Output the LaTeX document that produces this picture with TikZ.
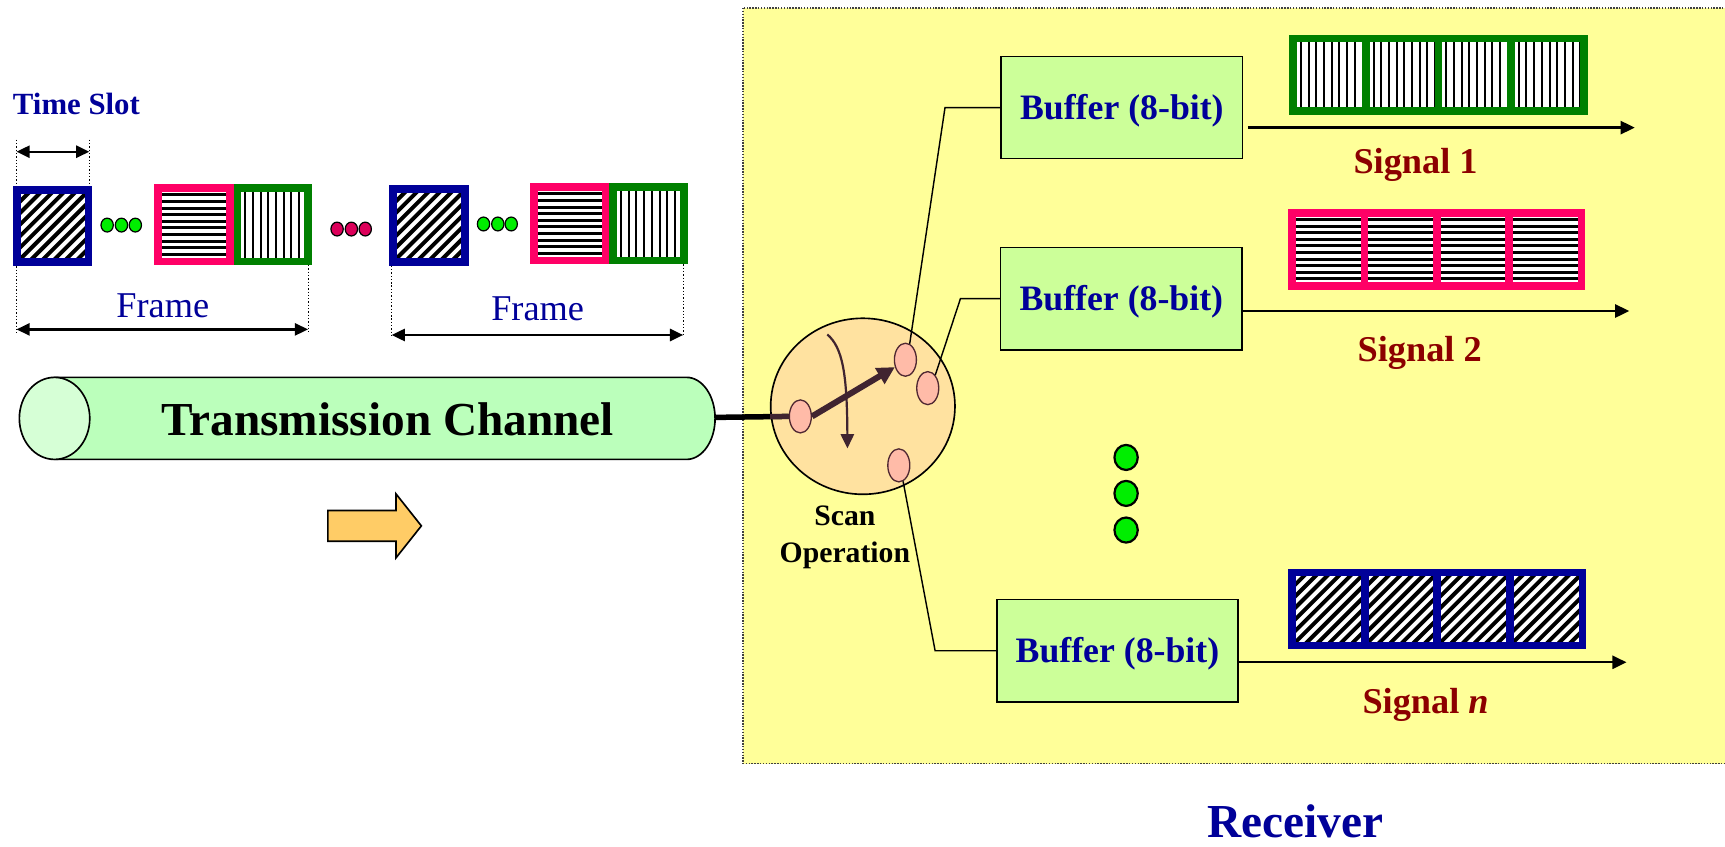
\documentclass[tikz,border=0pt]{standalone}
\usepackage{fontspec}
\setmainfont{Liberation Serif}
\usetikzlibrary{arrows.meta,shapes.geometric}
\definecolor{tblue}{RGB}{0,0,153}
\definecolor{sred}{RGB}{140,0,0}
\definecolor{bblue}{RGB}{0,0,153}
\definecolor{ppink}{RGB}{255,0,102}
\definecolor{ggreen}{RGB}{0,128,0}
\definecolor{yellowbg}{RGB}{255,255,153}
\definecolor{bufgreen}{RGB}{204,255,153}
\definecolor{cylbody}{RGB}{187,255,187}
\definecolor{cylcap}{RGB}{214,255,214}
\definecolor{scanfill}{RGB}{255,226,160}
\definecolor{padfill}{RGB}{255,187,168}
\definecolor{padline}{RGB}{80,40,50}
\definecolor{darkm}{RGB}{64,36,48}
\definecolor{orangef}{RGB}{255,204,102}
\definecolor{dotgreen}{RGB}{0,238,0}
\definecolor{dotpink}{RGB}{220,0,90}
\begin{document}
\begin{tikzpicture}[x=1pt,y=-1pt,
  cellbase/.style={line width=7pt, fill=white, inner sep=0pt, outer sep=0pt},
  cellB/.style={cellbase, draw=bblue,
    path picture={\foreach \k in {-9,...,9}
      {\draw[line width=3.6pt, black] ([xshift=\k*10.5pt]path picture bounding box.south west) -- ++(90pt,90pt);}}},
  cellP/.style={cellbase, draw=ppink,
    path picture={\foreach \k in {0,...,12}
      {\draw[line width=2.7pt, black] ([yshift=-\k*6pt]path picture bounding box.north west)
        -- ([yshift=-\k*6pt]path picture bounding box.north east);}}},
  cellG/.style={cellbase, draw=ggreen,
    path picture={\foreach \k in {0,...,11}
      {\draw[line width=1.8pt, black] ([xshift=\k*7pt]path picture bounding box.north west)
        -- ([xshift=\k*7pt]path picture bounding box.south west);}}},
  buf/.style={draw, line width=1.5pt, fill=bufgreen, inner sep=0pt,
    minimum width=219.5pt, minimum height=92.5pt, text=tblue,
    font=\bfseries\fontsize{32.5}{32.5}\selectfont, text height=23pt, text depth=2pt},
  sigl/.style={anchor=base, inner sep=0pt, text=sred, font=\bfseries\fontsize{33}{33}\selectfont},
  framel/.style={anchor=base, inner sep=0pt, text=tblue, font=\fontsize{33}{33}\selectfont},
  pad/.style={ellipse, draw=padline, fill=padfill, line width=1.2pt,
    minimum width=20pt, minimum height=30pt, inner sep=0pt},
  conn/.style={line width=1.3pt, draw=black},
  meas/.style={line width=2.2pt, {Triangle[length=12pt,width=11pt]}-{Triangle[length=12pt,width=11pt]}},
  sig/.style={line width=2.2pt, -{Triangle[length=13pt,width=12pt]}},
  dotl/.style={line width=0.9pt, dash pattern=on 1.2pt off 1.8pt},
  gdot/.style={draw, line width=1.1pt, fill=dotgreen},
  pdot/.style={draw, line width=1.1pt, fill=dotpink},
  bigdot/.style={draw, line width=2pt, fill=dotgreen}
]
\useasboundingbox (0,0) rectangle (1568,769);

% receiver background
\draw[draw=black!75, line width=1.2pt, dash pattern=on 1.3pt off 1.3pt, fill=yellowbg]
  (675.5,7.3) rectangle (1590,694);

% ---------- left: time slots and frames ----------
\node[anchor=base, inner sep=0pt, text=tblue, font=\bfseries\fontsize{28}{28}\selectfont]
  (tslot) at (69.5,104.5) {Time Slot};

\node[cellB, minimum width=65pt, minimum height=65.8pt] (b1) at (48,205.4) {};
\node[cellP, minimum width=65.3pt, minimum height=66.6pt] (p1) at (176.15,204.4) {};
\node[cellG, minimum width=64pt, minimum height=66.6pt] (g1) at (247.8,204.4) {};
\node[cellB, minimum width=65.2pt, minimum height=66pt] (b2) at (390,205) {};
\node[cellP, minimum width=65.3pt, minimum height=66.6pt] (p2) at (517.85,203.5) {};
\node[cellG, minimum width=64pt, minimum height=66.6pt] (g2) at (589.5,203.5) {};

\foreach \x in {97.4,110.4,123} \draw[gdot] (\x,204.6) ellipse[x radius=5.6, y radius=6.3];
\foreach \x in {306.4,319.4,332} \draw[pdot] (\x,208.2) ellipse[x radius=5.6, y radius=6.3];
\foreach \x in {439.5,452.5,464.7} \draw[gdot] (\x,203.6) ellipse[x radius=5.6, y radius=6.3];

\draw[dotl] (15,127) -- (15,169);
\draw[dotl] (81.2,127) -- (81.2,169);
\draw[dotl] (15,242) -- (15,303);
\draw[dotl] (280,241) -- (280,303);
\draw[dotl] (356,241.5) -- (356,306);
\draw[dotl] (621,240.3) -- (621,306);

\coordinate (tsL) at (15,137.9);
\coordinate (tsR) at (81.2,137.9);
\draw[meas] (tsL) -- (tsR);
\coordinate (f1L) at (15,299.4);
\coordinate (f1R) at (280,299.4);
\draw[meas] (f1L) -- (f1R);
\coordinate (f2L) at (356,304.5);
\coordinate (f2R) at (621,304.5);
\draw[meas] (f2L) -- (f2R);

\node[framel] (fr1) at (148,288.5) {Frame};
\node[framel] (fr2) at (488.7,291.5) {Frame};

% ---------- transmission channel ----------
\draw[line width=1.5pt, fill=cylbody] (49.6,343) -- (624,343)
  arc[start angle=-90, end angle=90, x radius=26, y radius=37.3] -- (49.6,417.6) -- cycle;
\draw[line width=1.5pt, fill=cylcap] (49.6,380.3) ellipse[x radius=32, y radius=37.3];
\node[anchor=base, inner sep=0pt, font=\bfseries\fontsize{43}{43}\selectfont]
  (chan) at (352.5,395.5) {Transmission Channel};
\coordinate (chR) at (650,379.4);

% orange arrow
\draw[line width=1.5pt, fill=orangef] (298,464) -- (360,464) -- (360,449) -- (383,478)
  -- (360,507) -- (360,492) -- (298,492) -- cycle;

% ---------- scan operation ----------
\node[ellipse, draw, line width=1.5pt, fill=scanfill, minimum width=167.5pt,
  minimum height=160pt, inner sep=0pt] (scan) at (784.3,369.3) {};
\node[pad] (padL) at (727.5,378.5) {};
\node[pad] (padT) at (823,327) {};
\node[pad] (padR) at (843.3,352.8) {};
\node[pad] (padB) at (817,423) {};

\draw[line width=5pt] (chR) -- (padL.west);
\draw[line width=5pt, draw=darkm] (scan.west |- padL.west) -- (padL.west);

\draw[line width=5.5pt, draw=darkm, -{Triangle[length=16pt,width=16pt]}] (padL.east) -- (padT.215);
\coordinate (cv0) at (752,304);
\coordinate (cv1) at (770.3,407.6);
\draw[line width=2pt, draw=darkm, -{Triangle[length=13pt,width=12pt]}]
  (cv0) .. controls (766,316) and (770,340) .. (cv1);

\node[align=center, inner sep=0pt, font=\bfseries\fontsize{27}{33.6}\selectfont]
  (scanlbl) at (768,488) {Scan\\Operation};

% ---------- buffers ----------
\node[buf] (buf1) at (1019.75,97.75) {Buffer (8-bit)};
\node[buf, minimum height=93pt] (buf2) at (1019.25,271.5) {Buffer (8-bit)};
\node[buf, minimum height=93pt] (buf3) at (1015.75,591.5) {Buffer (8-bit)};

\coordinate (k1) at (859,97.75);
\draw[conn] (padT.75) -- (k1) -- (buf1.west);
\coordinate (k2) at (873,271.5);
\draw[conn] (padR.60) -- (k2) -- (buf2.west);
\coordinate (k3) at (850,591.5);
\draw[conn] (padB.-75) -- (k3) -- (buf3.west);

% ---------- signals ----------
\foreach \x [count=\i] in {1208.5,1274.5,1340.5,1406.5}
  \node[cellG, minimum width=66pt, minimum height=66pt] (sa\i) at (\x,68) {};
\foreach \x [count=\i] in {1207.4,1273.1,1338.9,1404.6}
  \node[cellP, minimum width=65.75pt, minimum height=66.6pt] (sb\i) at (\x,226.8) {};
\foreach \x [count=\i] in {1207.5,1273.5,1339.5,1405.5}
  \node[cellB, minimum width=66pt, minimum height=66.3pt] (sc\i) at (\x,553.65) {};

\coordinate (s1e) at (1486,116);
\coordinate (s2e) at (1481,282.7);
\coordinate (s3e) at (1478.5,602);
\draw[sig] ([xshift=4pt]buf1.east |- s1e) -- (s1e);
\draw[sig] (buf2.east |- s2e) -- (s2e);
\draw[sig] (buf3.east |- s3e) -- (s3e);

\node[sigl] (sl1) at (1286.7,158) {Signal 1};
\node[sigl] (sl2) at (1290.5,328.8) {Signal 2};
\node[sigl] (sl3) at (1295.8,648.5) {Signal \textit{n}};

\draw[bigdot] (1023.6,415.8) ellipse[x radius=10.6, y radius=11.4];
\draw[bigdot] (1023.6,448.5) ellipse[x radius=10.6, y radius=11.4];
\draw[bigdot] (1023.6,481.8) ellipse[x radius=10.6, y radius=11.4];

\node[anchor=base, inner sep=0pt, text=tblue, font=\bfseries\fontsize{43}{43}\selectfont]
  (recv) at (1177.3,761) {Receiver};
\end{tikzpicture}
\end{document}
